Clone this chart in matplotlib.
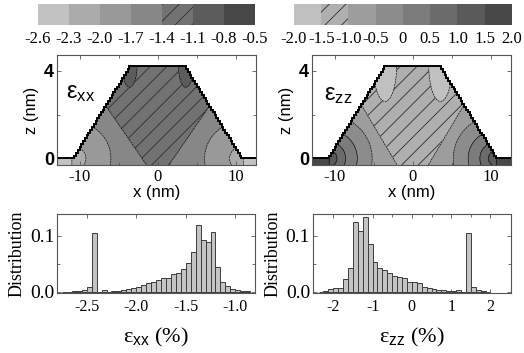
import numpy as np
import matplotlib
matplotlib.use('Agg')
import matplotlib.pyplot as plt
from matplotlib.patches import PathPatch
from matplotlib.path import Path
from matplotlib.ticker import FixedLocator

plt.rcParams['font.family'] = ['Liberation Serif', 'DejaVu Serif']
plt.rcParams['mathtext.fontset'] = 'custom'
plt.rcParams['mathtext.rm'] = 'Liberation Sans'
plt.rcParams['mathtext.it'] = 'Liberation Sans:italic'
plt.rcParams['mathtext.bf'] = 'Liberation Sans:bold'
plt.rcParams['axes.unicode_minus'] = False
plt.rcParams['hatch.color'] = '#2e2e2e'
plt.rcParams['hatch.linewidth'] = 0.6

# ---------------- colour scales (top bars) ----------------
exx_bounds = [-2.6, -2.3, -2.0, -1.7, -1.4, -1.1, -0.8, -0.5]
exx_labels = ['-2.6', '-2.3', '-2.0', '-1.7', '-1.4', '-1.1', '-0.8', '-0.5']
exx_colors = ['#c2c2c2', '#ababab', '#999999', '#878787', '#727272', '#5c5c5c', '#474747']
exx_hatched = 4

ezz_bounds = [-2.0, -1.5, -1.0, -0.5, 0.0, 0.5, 1.0, 1.5, 2.0]
ezz_labels = ['-2.0', '-1.5', '-1.0', '-0.5', '0', '0.5', '1.0', '1.5', '2.0']
ezz_colors = ['#c0c0c0', '#afafaf', '#9d9d9d', '#8c8c8c', '#7c7c7c', '#6b6b6b', '#5a5a5a', '#484848']
ezz_hatched = 1

# ---------------- histogram data ----------------
exx_bin_start, exx_bin_width = -2.75, 0.05
exx_dist = [0.0005, 0.0005, 0.001, 0.001, 0.003, 0.009, 0.105, 0.0, 0.003, 0.0006,
            0.0012, 0.0024, 0.003, 0.005, 0.007, 0.009, 0.012, 0.015, 0.018, 0.021,
            0.024, 0.024, 0.032, 0.034, 0.040, 0.052, 0.071, 0.119, 0.092, 0.089,
            0.106, 0.045, 0.018, 0.011, 0.006, 0.0035, 0.002, 0.001]

ezz_bin_start, ezz_bin_width = -2.375, 0.125
ezz_dist = [0.0005, 0.001, 0.005, 0.0065, 0.0065, 0.023, 0.043, 0.125, 0.109, 0.134,
            0.085, 0.054, 0.042, 0.039, 0.033, 0.029, 0.026, 0.024, 0.018, 0.018,
            0.015, 0.009, 0.007, 0.006, 0.004, 0.0025, 0.002, 0.001, 0.004, 0.0005,
            0.105, 0.009, 0.003, 0.001, 0.0005]

# ---------------- quantum-dot geometry (nm) ----------------
base_hw = 10.7      # half width at the base
top_hw = 3.4        # half width of the top facet
dot_h = 4.2         # height
n_steps = 32        # atomic steps on the side facets
z_scale = 2.83      # aspect used for the corner-centred contours

# zone strain values (%)
exx_zone = {'center': -1.25, 'side': -1.55, 'arc1': -1.85, 'arc2': -2.15,
            'wl': -2.45, 'blob': -0.95}
exx_arc_r = [4.7, 1.5]
exx_center_line = (2.0, 1.93)     # |x| < a + b z
exx_blob = (3.6, 4.25, 0.95, 1.0)

ezz_zone_arcs = [-0.75, -0.25, 0.25, 0.75, 1.25]
ezz_arc_r = [5.5, 3.6, 2.1, 1.0]
ezz_zone = {'center': -1.25, 'wl': 1.75, 'blob': -1.75}
ezz_center_line = (2.0, 1.67)     # |x| < a + b (z + 0.3)
ezz_blob = (3.55, 4.25, 1.5, 1.65)


def outline(xl, xr):
    dz = dot_h / n_steps
    dx = (base_hw - top_hw) / n_steps
    pts = [(xl, 0.0), (-base_hw, 0.0)]
    x, z = -base_hw, 0.0
    for _ in range(n_steps):
        z += dz; pts.append((x, z))
        x += dx; pts.append((x, z))
    pts.append((top_hw, dot_h))
    x, z = top_hw, dot_h
    for _ in range(n_steps):
        x += dx; pts.append((x, z))
        z -= dz; pts.append((x, z))
    pts.append((xr, 0.0))
    return pts


xg = np.linspace(-13.5, 13.5, 1201)
zg = np.linspace(-0.6, 4.7, 601)
X, Z = np.meshgrid(xg, zg)
AX = np.abs(X)
D = np.hypot(AX - base_hw, Z * z_scale)

# eps_xx field
exx = np.full(X.shape, exx_zone['side'])
exx[D < exx_arc_r[0]] = exx_zone['arc1']
exx[D < exx_arc_r[1]] = exx_zone['arc2']
exx[AX < exx_center_line[0] + exx_center_line[1] * Z] = exx_zone['center']
exx[(Z < 0) & (AX > base_hw + 0.3)] = exx_zone['wl']
bx, bz, bw, bh = exx_blob
exx[((AX - bx) / bw) ** 2 + ((Z - bz) / bh) ** 2 < 1] = exx_zone['blob']

# eps_zz field
ezz = np.full(X.shape, ezz_zone_arcs[0])
for r, val in zip(ezz_arc_r, ezz_zone_arcs[1:]):
    ezz[D < r] = val
ezz[AX < ezz_center_line[0] + ezz_center_line[1] * (Z + 0.3)] = ezz_zone['center']
ezz[(Z < 0) & (AX > base_hw)] = ezz_zone['wl']
bx, bz, bw, bh = ezz_blob
ezz[((AX - bx) / bw) ** 2 + ((Z - bz) / bh) ** 2 < 1] = ezz_zone['blob']

fig = plt.figure(figsize=(5.24, 3.53), dpi=100)

SPINE = '#555555'


def style_axes(ax):
    for s in ax.spines.values():
        s.set_color(SPINE)
        s.set_linewidth(0.8)
    ax.tick_params(which='both', direction='in', top=True, right=True,
                   color=SPINE, width=0.6)
    ax.tick_params(which='major', length=3)
    ax.tick_params(which='minor', length=2)


def colour_bar(rect, bounds, labels, colors, hidx):
    cax = fig.add_axes(rect)
    n = len(colors)
    bars = cax.bar(np.arange(n), np.ones(n), width=1.0, align='edge',
                   color=colors, linewidth=0)
    bars[hidx].set_hatch('//')
    cax.set_xlim(0, n)
    cax.set_ylim(0, 1)
    cax.set_xticks(np.arange(n + 1))
    cax.set_xticklabels(labels, fontsize=12)
    cax.set_yticks([])
    cax.tick_params(length=0, pad=4)
    for s in cax.spines.values():
        s.set_visible(False)


colour_bar([0.0725, 0.929, 0.414, 0.0595], exx_bounds, exx_labels, exx_colors, exx_hatched)
colour_bar([0.561, 0.929, 0.416, 0.0595], ezz_bounds, ezz_labels, ezz_colors, ezz_hatched)


def strain_map(rect, field, bounds, colors, hidx, label, lab_xy):
    ax = fig.add_axes(rect)
    xl, xr = -12.9, 12.6
    pts = outline(xl - 1, xr + 1)
    clip = pts + [(xr + 1, -1.0), (xl - 1, -1.0)]
    patch = PathPatch(Path(clip, closed=False), transform=ax.transData,
                      facecolor='none', edgecolor='none')
    hatches = [None] * len(colors)
    hatches[hidx] = '//'
    cf = ax.contourf(X, Z, field, levels=bounds, colors=colors, hatches=hatches)
    cf.set_clip_path(patch)
    cl = ax.contour(X, Z, field, levels=bounds[1:-1], colors='k', linewidths=0.4)
    cl.set_clip_path(patch)
    ox, oz = zip(*pts)
    ax.plot(ox, oz, color='k', lw=1.4, solid_joinstyle='miter')
    ax.set_xlim(xl, xr)
    ax.set_ylim(-0.3, 4.72)
    ax.set_xticks([-10, 0, 10])
    ax.set_xticklabels(['-10', '0', '10'], fontsize=12)
    ax.xaxis.set_minor_locator(FixedLocator([-5, 5]))
    ax.set_yticks([0, 4])
    ax.set_yticklabels(['0', '4'], fontsize=13, fontfamily='Liberation Sans',
                       fontweight='bold')
    ax.yaxis.set_minor_locator(FixedLocator([2]))
    style_axes(ax)
    ax.tick_params(axis='x', pad=3)
    ax.tick_params(axis='y', pad=2)
    ax.set_xlabel('x (nm)', fontfamily='Liberation Sans', fontsize=12, labelpad=0)
    ax.set_ylabel('z (nm)', fontfamily='Liberation Sans', fontsize=12, labelpad=4)
    ax.text(lab_xy[0], lab_xy[1], label, fontsize=17, ha='center', va='center',
            fontfamily='Liberation Sans')
    return ax


strain_map([0.1088, 0.5326, 0.380, 0.3116], exx, exx_bounds, exx_colors, exx_hatched,
           'ε$_{\\mathrm{xx}}$', (-9.9, 3.0))
strain_map([0.5954, 0.5326, 0.380, 0.3116], ezz, ezz_bounds, ezz_colors, ezz_hatched,
           'ε$_{\\mathrm{zz}}$', (-9.6, 2.9))


def histogram(rect, start, width, dist, xlim, xticks, xticklabels, minor, label):
    ax = fig.add_axes(rect)
    edges = start + width * np.arange(len(dist))
    ax.bar(edges, dist, width=width, align='edge', color='#c4c4c4',
           edgecolor='#3c3c3c', linewidth=0.7)
    ax.set_xlim(*xlim)
    ax.set_ylim(-0.002, 0.139)
    ax.set_xticks(xticks)
    ax.set_xticklabels(xticklabels, fontsize=11.5)
    if minor:
        ax.xaxis.set_minor_locator(FixedLocator(minor))
    ax.set_yticks([0.0, 0.1])
    ax.set_yticklabels(['0.0', '0.1'], fontsize=14)
    ax.yaxis.set_minor_locator(FixedLocator([0.05]))
    style_axes(ax)
    ax.tick_params(axis='x', pad=4)
    ax.tick_params(axis='y', pad=2)
    ax.set_ylabel('Distribution', fontsize=13, labelpad=3)
    ax.set_xlabel(label, fontsize=16, labelpad=8)
    return ax


histogram([0.1088, 0.170, 0.378, 0.2238], exx_bin_start, exx_bin_width, exx_dist,
          (-2.8, -0.8), [-2.5, -2.0, -1.5, -1.0], ['-2.5', '-2.0', '-1.5', '-1.0'], None,
          'ε$_{\\mathrm{xx}}$ (%)')
histogram([0.597, 0.170, 0.378, 0.2238], ezz_bin_start, ezz_bin_width, ezz_dist,
          (-2.52, 2.52), [-2, -1, 0, 1, 2], ['-2', '-1', '0', '1', '2'],
          [-1.5, -0.5, 0.5, 1.5], 'ε$_{\\mathrm{zz}}$ (%)')

fig.savefig('out.png', dpi=100)
